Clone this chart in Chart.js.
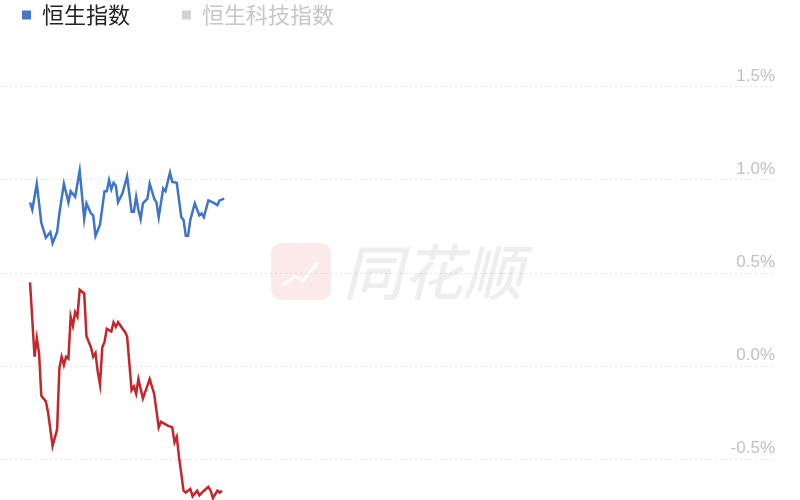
<!DOCTYPE html>
<html>
<head>
<meta charset="utf-8">
<script src="https://cdn.jsdelivr.net/npm/chart.js@4"></script>
<style>
html,body{margin:0;padding:0;background:#fff;}
#wrap{width:800px;height:500px;position:relative;}
</style>
</head>
<body>
<div id="wrap"><canvas id="c"></canvas></div>
<script>
// ---- data (percent change, minutes after open) ----
const seriesNames = ['恒生指数', '恒生科技指数'];
const hsiMinutes = [0,1,3,5,7,9,10,12,13,15,17,18,20,22,24,25,27,28,29,31,33,34,35,36,37,38,39,41,43,45,46,47,48,49,50,52,53,55,56,57,59,60,62,63,65,67,68,69,70,71,73,75,76,77,79,81,83,84,86];
const hsiValues = [0.88,0.84,0.98,0.77,0.69,0.72,0.66,0.72,0.82,0.98,0.88,0.94,0.91,1.05,0.79,0.875,0.82,0.81,0.70,0.76,0.94,0.94,1.00,0.95,0.985,0.97,0.88,0.93,1.02,0.83,0.83,0.91,0.84,0.79,0.875,0.90,0.98,0.90,0.88,0.80,0.955,0.94,1.04,0.99,0.985,0.80,0.785,0.70,0.70,0.785,0.875,0.81,0.82,0.80,0.89,0.88,0.865,0.89,0.90];
const hstechMinutes = [0,2,3,4,5,7,8,10,12,13,14,15,16,17,18,19,20,21,22,24,25,27,28,29,30,31,32,33,34,36,37,38,39,41,42,43,45,46,47,48,50,53,55,57,58,61,63,64,65,66,68,69,71,72,74,75,77,79,80,81,83,84,85];
const hstechValues = [0.45,0.05,0.15,0.07,-0.16,-0.19,-0.25,-0.43,-0.34,-0.01,0.05,0.005,0.05,0.04,0.265,0.215,0.29,0.265,0.41,0.39,0.16,0.10,0.05,0.07,-0.03,-0.10,0.10,0.13,0.20,0.185,0.235,0.21,0.235,0.20,0.185,0.16,-0.13,-0.11,-0.15,-0.07,-0.175,-0.07,-0.15,-0.33,-0.30,-0.32,-0.33,-0.41,-0.38,-0.49,-0.67,-0.68,-0.66,-0.70,-0.67,-0.695,-0.67,-0.65,-0.67,-0.71,-0.67,-0.68,-0.67];
const yTicks = [-0.5, 0, 0.5, 1.0, 1.5];
const sessionMinutes = 330;

const toPoints = (xs, ys) => xs.map((x, i) => ({x: x, y: ys[i]}));

const watermark = {
  id: 'watermark',
  beforeDatasetsDraw(chart) {
    const ctx = chart.ctx;
    ctx.save();
    ctx.fillStyle = 'rgba(230,60,60,0.11)';
    ctx.beginPath();
    ctx.roundRect(271, 243, 60, 57, 10);
    ctx.fill();
    ctx.strokeStyle = 'rgba(255,255,255,0.9)';
    ctx.lineWidth = 3;
    ctx.beginPath();
    ctx.moveTo(283, 285); ctx.lineTo(295, 276); ctx.lineTo(303, 281); ctx.lineTo(318, 262);
    ctx.stroke();
    ctx.fillStyle = 'rgba(0,0,0,0.065)';
    ctx.font = 'italic 500 60px "Noto Sans CJK SC"';
    ctx.textBaseline = 'middle';
    ctx.fillText('同花顺', 343, 272);
    ctx.restore();
  }
};

new Chart(document.getElementById('c'), {
  type: 'line',
  data: {
    datasets: [
      {label: seriesNames[0], data: toPoints(hsiMinutes, hsiValues), borderColor: '#3f74c8', backgroundColor: '#4a76c6', borderWidth: 2.5, pointRadius: 0, tension: 0},
      {label: seriesNames[1], data: toPoints(hstechMinutes, hstechValues), borderColor: '#c4262c', backgroundColor: '#d2d2d2', borderWidth: 2.5, pointRadius: 0, tension: 0}
    ]
  },
  options: {
    responsive: true,
    maintainAspectRatio: false,
    animation: false,
    layout: {padding: {top: -48, left: -30, right: 25, bottom: 0}},
    plugins: {
      tooltip: {enabled: false},
      legend: {
        position: 'top',
        align: 'start',
        labels: {
          boxWidth: 9,
          boxHeight: 9,
          padding: 52,
          font: {family: '"Noto Sans CJK SC"', size: 22},
          generateLabels(chart) {
            const txtColors = ['#222222', '#c6c6c6'];
            return chart.data.datasets.map((ds, i) => ({
              text: ds.label,
              fillStyle: ds.backgroundColor,
              strokeStyle: ds.backgroundColor,
              lineWidth: 0,
              fontColor: txtColors[i],
              hidden: false,
              datasetIndex: i
            }));
          }
        }
      }
    },
    scales: {
      x: {type: 'linear', min: -13.3, max: sessionMinutes, display: false},
      y: {
        position: 'right',
        min: -0.72,
        max: 1.774,
        afterBuildTicks(scale) { scale.ticks = yTicks.map(v => ({value: v})); },
        afterFit(scale) { scale.paddingTop = 0; scale.paddingBottom = 0; },
        grid: {color: '#e4e4e4', lineWidth: 1, drawTicks: false},
        border: {display: false, dash: [2, 3]},
        ticks: {
          mirror: true,
          padding: 0,
          labelOffset: -11,
          color: '#c0c0c0',
          font: {family: '"Liberation Sans"', size: 17},
          callback: v => v.toFixed(1) + '%'
        }
      }
    }
  },
  plugins: [watermark]
});
</script>
</body>
</html>
